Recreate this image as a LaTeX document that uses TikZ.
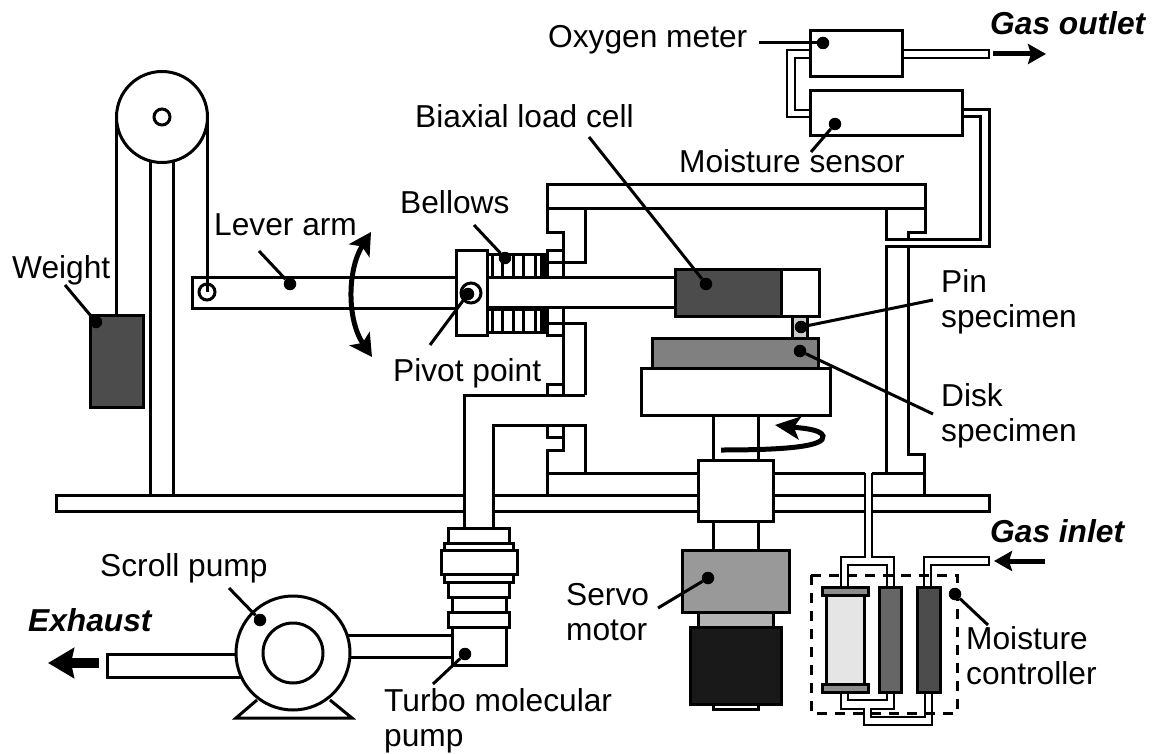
\documentclass[tikz,border=0pt]{standalone}
\usepackage{fontspec}
\setmainfont{Liberation Sans}
\usepackage{xcolor}
\usetikzlibrary{arrows.meta, positioning}

\begin{document}
\begin{tikzpicture}[x=1pt, y=-1pt,
    part/.style={draw=black, line width=3pt},
    pipe/.style={draw=black, line width=2.8pt},
    lbl/.style={font=\fontsize{31.7}{35}\selectfont, anchor=base west, align=left, inner sep=0pt},
    gaslbl/.style={lbl, font=\fontsize{31.7}{35}\selectfont\bfseries\itshape},
    dot/.style={circle, fill=black, inner sep=0pt, minimum size=12.5pt},
    leader/.style={draw=black, line width=3pt},
    flowarrow/.style={-{Stealth[length=18pt, width=20pt, inset=3pt]}, line width=5pt},
    bigarrow/.style={-{Stealth[length=26pt, width=30pt, inset=3pt]}, line width=10pt},
    motion/.style={line width=5pt}
]
\useasboundingbox (0,0) rectangle (1156,754);

% base plate
\draw [part] (463,495) -- (56,495) -- (56,511) -- (463,511);
\draw [part] (493,495) -- (698,495) (493,511) -- (698,511);
\draw [part] (773,495) -- (865,495) (773,511) -- (865,511);
\draw [part] (872,495) -- (989,495) -- (989,511) -- (872,511);

% pulley and weight
\draw [part] (150,150) -- (150,495) (173,150) -- (173,495);
\draw [part] (116,117) -- (116,315) (207,117) -- (207,292);
\draw [part, fill=white] (162,117) circle (45.5);
\draw [part] (162,117) circle (8);
\draw [part, fill=black!70] (90,315) rectangle (143,407);

% lever arm, pivot plate and shaft
\draw [part] (456,277) -- (192,277) -- (192,308) -- (456,308);
\draw [part] (207,292) circle (8);
\draw [part] (487,277) -- (675,277) (487,307) -- (675,307);
\draw [part] (487,254) rectangle (541,277);
\draw [part] (487,309) rectangle (541,332);
\foreach \bx in {492,502,513,523,535} {
    \draw [part] (\bx,254) -- (\bx,277) (\bx,309) -- (\bx,332);
}
\fill (541,253) rectangle (547,277);
\fill (541,307) rectangle (547,334);
\draw [part, fill=white] (456,250) rectangle (487,335);
\draw [part] (471,293) circle (10);

% chamber, upper side
\draw [part] (547,185) rectangle (925,209);
\draw [part] (547,209) -- (547,232) -- (563,232) -- (563,277);
\draw [part] (585,209) -- (585,262) -- (547,262);
\draw [part] (563,250) -- (547,250) -- (547,277);
\draw [part] (886,209) -- (886,239) -- (980,239) -- (980,117) -- (962,117);
\draw [part] (925,209) -- (925,232) -- (908,232) -- (908,239);
\draw [part] (886,473) -- (886,246) -- (989,246) -- (989,110) -- (962,110);
\draw [part] (908,246) -- (908,454) -- (924,454) -- (924,495);

% chamber, lower side
\draw [part] (547,307) -- (547,335) -- (563,335);
\draw [part] (563,307) -- (563,395);
\draw [part] (547,323) -- (585,323) -- (585,395);
\draw [part] (563,384) -- (547,384) -- (547,395);
\draw [part] (493,528) -- (493,425) -- (585,425) -- (585,473);
\draw [part] (464,528) -- (464,395) -- (585,395);
\draw [part] (547,426) -- (547,437) -- (563,437);
\draw [part] (563,426) -- (563,450) -- (547,450) -- (547,495);
\draw [part] (547,473) -- (698,473) (773,473) -- (865,473);
\draw [part] (872,473) -- (924,473);

% disk, pin, load cell
\draw [part] (713,415) -- (713,460) (758,415) -- (758,460);
\draw [part, fill=black!70] (675,269) rectangle (781,316);
\draw [part] (781,269) rectangle (819,316);
\draw [part, fill=black!20] (792,316) rectangle (807,338);
\draw [part, fill=black!50] (652,338) rectangle (818,368);
\draw [part] (641,368) rectangle (830,415);

% servo motor
\draw [part] (698,460) rectangle (773,521);
\draw [part] (713,521) -- (713,550) (758,521) -- (758,550);
\draw [part] (713,704) rectangle (758,709);
\draw [part, fill=black!40] (682,550) rectangle (789,612);
\draw [part, fill=black!30] (698,612) rectangle (773,627);
\draw [part, fill=black!90] (690,627) rectangle (781,704);

% oxygen meter and moisture sensor
\draw [part] (810,31) rectangle (902,77);
\draw [part] (810,91) rectangle (962,136);
\draw [pipe] (902,50) rectangle (989,58);
\draw [pipe] (810,50) -- (787,50) -- (787,117) -- (810,117);
\draw [pipe] (810,58) -- (795,58) -- (795,110) -- (810,110);

% moisture controller
\draw [line width=3pt, dash pattern=on 10pt off 8pt] (811,575) rectangle (957,713);
\draw [pipe] (865,473) -- (865,557) -- (841,557) -- (841,587);
\draw [pipe] (872,473) -- (872,557) -- (894,557) -- (894,587);
\draw [pipe] (848,587) -- (848,565) -- (887,565) -- (887,587);
\draw [pipe] (924,587) -- (924,557) -- (989,557) -- (989,565) -- (931,565) -- (931,587);
\draw [pipe] (841,692) -- (841,709) -- (864,709) -- (864,725) -- (932,725) -- (932,692);
\draw [pipe] (848,692) -- (848,700) -- (887,700) -- (887,692);
\draw [pipe] (894,692) -- (894,709) -- (871,709) -- (871,717) -- (925,717) -- (925,692);
\draw [part, fill=black!10] (826,594) rectangle (864,685);
\draw [part, fill=black!45] (822,587) rectangle (868,595);
\draw [part, fill=black!45] (822,684) rectangle (868,692);
\draw [part, fill=black!60] (879,587) rectangle (901,692);
\draw [part, fill=black!70] (917,587) rectangle (940,692);

% pumps
\draw [part] (107,654) rectangle (240,677);
\draw [part] (340,635) rectangle (452,657);
\draw [part] (257,700) -- (236,718) -- (352,718) -- (330,700);
\draw [part, fill=white] (293,653) circle (57);
\draw [part] (293,653) circle (30);
\draw [part] (452,628) -- (452,665) -- (506,665) -- (506,628);
\draw [part] (448,612) rectangle (509,627);
\draw [part] (452,597) rectangle (506,612);
\draw [part] (448,582) rectangle (509,597);
\draw [part] (444,574) rectangle (513,582);
\draw [part] (441,550) rectangle (517,574);
\draw [part] (444,543) rectangle (513,550);
\draw [part] (448,528) rectangle (509,543);

% flow and motion arrows
\draw [flowarrow] (993,54) -- (1046,54);
\draw [flowarrow] (1045,561) -- (994,561);
\draw [bigarrow] (99,663) -- (48,663);
\draw [motion, {Stealth[length=22pt, width=24pt, inset=5pt]}-{Stealth[length=22pt, width=24pt, inset=5pt]}]
    (371,232) .. controls (347,270) and (347,320) .. (372,357);
\draw [motion, -{Stealth[length=25pt, width=23pt, inset=6pt]}]
    (721,450) .. controls (790,450) and (825,446) .. (823,436)
    .. controls (821,429) and (800,428) .. (775,425);

% labels
\node (oxylbl)    [lbl] at (548,48)  {Oxygen meter};
\node (moistlbl)  [lbl] at (679,173) {Moisture sensor};
\node (cell)      [lbl] at (415,128) {Biaxial load cell};
\node (bellows)   [lbl] at (400,214) {Bellows};
\node (lever)     [lbl] at (214,235) {Lever arm};
\node (weight)    [lbl] at (12,278)  {Weight};
\node (pivot)     [lbl] at (393,381) {Pivot point};
\node (pin)       [lbl] at (941,327) {Pin\\specimen};
\node (disk)      [lbl] at (941,441) {Disk\\specimen};
\node (servo)     [lbl] at (566,640) {Servo\\motor};
\node (scroll)    [lbl] at (100,576) {Scroll pump};
\node (turbo)     [lbl] at (384,746) {Turbo molecular\\pump};
\node (control)   [lbl] at (966,684) {Moisture\\controller};
\node (outlet)    [gaslbl] at (990,35)  {Gas outlet};
\node (inlet)     [gaslbl] at (990,542) {Gas inlet};
\node (exhaust)   [gaslbl] at (28,631)  {Exhaust};

% leader dots
\node (oxydot)     [dot] at (823,43)  {};
\node (moistdot)   [dot] at (835,124) {};
\node (celldot)    [dot] at (706,284) {};
\node (bellowsdot) [dot] at (505,258) {};
\node (pivotdot)   [dot] at (468,294) {};
\node (leverdot)   [dot] at (290,284) {};
\node (weightdot)  [dot] at (96,322)  {};
\node (pindot)     [dot] at (801,327) {};
\node (diskdot)    [dot] at (800,351) {};
\node (servodot)   [dot] at (708,578) {};
\node (scrolldot)  [dot] at (260,620) {};
\node (turbodot)   [dot] at (465,654) {};
\node (controldot) [dot] at (955,594) {};

\coordinate (oxyfree)     at (759,43);
\coordinate (moistfree)   at (811,152);
\coordinate (cellfree)    at (589,137);
\coordinate (bellowsfree) at (474,225);
\coordinate (pivotfree)   at (430,345);
\coordinate (leverfree)   at (259,251);
\coordinate (weightfree)  at (65,285);
\coordinate (pinfree)     at (933,300);
\coordinate (diskfree)    at (933,414);
\coordinate (servofree)   at (658,608);
\coordinate (scrollfree)  at (229,588);
\coordinate (turbofree)   at (433,684);
\coordinate (controlfree) at (988,625);

\draw [leader] (oxyfree)     -- (oxydot);
\draw [leader] (moistfree)   -- (moistdot);
\draw [leader] (cellfree)    -- (celldot);
\draw [leader] (bellowsfree) -- (bellowsdot);
\draw [leader] (pivotfree)   -- (pivotdot);
\draw [leader] (leverfree)   -- (leverdot);
\draw [leader] (weightfree)  -- (weightdot);
\draw [leader] (pinfree)     -- (pindot);
\draw [leader] (diskfree)    -- (diskdot);
\draw [leader] (servofree)   -- (servodot);
\draw [leader] (scrollfree)  -- (scrolldot);
\draw [leader] (turbofree)   -- (turbodot);
\draw [leader] (controlfree) -- (controldot);
\end{tikzpicture}
\end{document}
